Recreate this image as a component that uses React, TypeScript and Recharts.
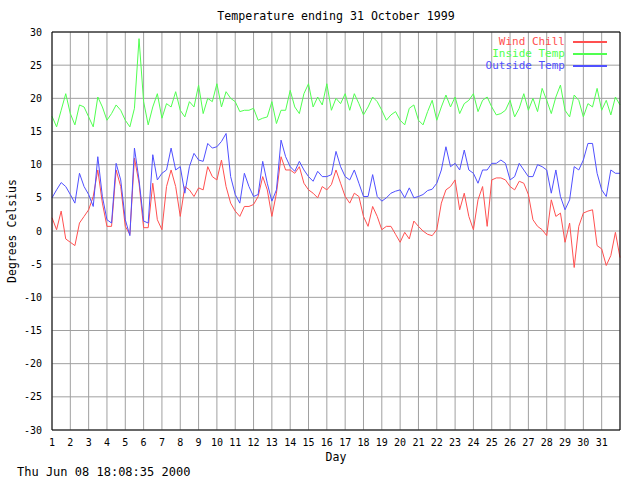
import { LineChart, Line, XAxis, YAxis, CartesianGrid, Legend } from "recharts";

// readings every 6 hours, from day 1 00:00 to day 32 00:00
const START_DAY = 1;
const STEP = 0.25;

const windChill = [
  2, 0.2, 3, -1.2,
  -1.7, -2.2, 1.2, 2.2,
  3.2, 5.2, 9.2, 4.2,
  0.7, 0.7, 9.2, 6.7,
  0.7, -0.5, 11, 7.2,
  0.5, 0.5, 7.2, 1.7,
  0.2, 6.7, 9.2, 6.7,
  2.2, 6.7, 6.2, 5.2,
  6.5, 6.2, 9.7, 8.2,
  7.7, 10.7, 6.7, 4.2,
  3, 2.2, 3.7, 3.7,
  4, 5.2, 8.2, 6.2,
  2.2, 5.7, 11.2, 9.2,
  9.2, 8.7, 9.7, 7.2,
  6.2, 5.7, 5, 6.7,
  6.2, 7, 9.2, 7.2,
  5.2, 4.2, 5.7, 5.2,
  2.2, 0.7, 3.7, 2.2,
  0.2, 0.7, 0.7, -0.5,
  -1.7, -0.2, -1.2, 1.5,
  0.7, 0, -0.5, -0.7,
  0.2, 4.2, 6.2, 6.7,
  7.7, 3.2, 5.7, 2.2,
  0.2, 4.7, 6.7, 0.7,
  7.7, 8, 8, 7.7,
  6.7, 6.2, 7.5, 7.2,
  5.5, 1.7, 0.7, 0.2,
  -0.7, 4.7, 2.2, 2.7,
  -1.7, 1.2, -5.5, 0.7,
  2.7, 3, 3.2, -2.2,
  -2.7, -5.2, -3.7, -0.2,
  -4,
];

const insideTemp = [
  17.3, 15.7, 18.2, 20.7,
  17.7, 16, 19, 18.7,
  17.2, 15.7, 20.2, 18.7,
  16.7, 17.7, 19, 18.2,
  16.7, 15.7, 18.5, 29,
  19.5, 16, 18.7, 20.7,
  17, 19.2, 18.7, 21,
  18.2, 17.2, 19.5, 18.7,
  22, 17.7, 20, 19.5,
  22.2, 18.7, 21, 20,
  19.5, 18, 18.2, 18.2,
  18.5, 16.7, 17, 17.2,
  19.5, 16.2, 18.2, 18.2,
  21.2, 18.7, 17.7, 20.7,
  22.2, 18.7, 20.2, 19,
  22.2, 18.2, 20, 19.2,
  20.7, 18.2, 20.7, 19.2,
  17.5, 18.7, 20.2, 19.5,
  18.2, 16.7, 17.5, 18,
  16.7, 16, 18.5, 19,
  16.7, 16, 18, 19.7,
  16.7, 18.7, 20.5, 18.7,
  20.2, 17.7, 19.2, 19.7,
  20.7, 18, 19.7, 20.2,
  18.7, 17.5, 17.7, 18.2,
  19.7, 17.2, 18.5, 20.7,
  18.2, 20, 18, 21.5,
  19.7, 17.7, 20.2, 22,
  18.2, 17.2, 20.5, 19.7,
  17.2, 19.2, 18.7, 21.5,
  18.2, 19.7, 17.5, 20.2,
  19,
];

const outsideTemp = [
  5, 6.2, 7.3, 6.7,
  5.5, 4.2, 8.7, 6.7,
  5.5, 3.7, 11.2, 5.2,
  1.7, 1.2, 10.2, 7.7,
  1.7, -0.7, 12.5, 7.7,
  1.5, 1.2, 11.5, 7.7,
  8.7, 9.2, 12.5, 9.2,
  9.7, 5.7, 9.7, 11.7,
  10.7, 10.5, 13.2, 12.5,
  12.7, 13.5, 14.7, 8.2,
  5.5, 4.2, 8.7, 6.7,
  5.2, 5.5, 10.5, 7.2,
  4.5, 6.2, 13.7, 11.2,
  9.7, 9, 10.5, 9.2,
  8.2, 7.5, 9, 8.2,
  8.2, 8.5, 12, 9.7,
  8.2, 7.7, 9.2, 7.2,
  5.2, 5.2, 8.5, 5.2,
  4.5, 5, 5.7, 6,
  6.2, 5, 6.5, 5,
  5.2, 5.5, 6.1, 6.3,
  7.2, 9.2, 12.7, 9.7,
  10.2, 9.2, 12.2, 9.2,
  8.7, 7.2, 9.2, 9.2,
  10.2, 10.2, 10.7, 10.2,
  7.7, 8.2, 10.2, 9.2,
  8.2, 8.2, 10, 9.7,
  9.2, 5.7, 9.2, 5.2,
  3.2, 4.7, 9.7, 9.2,
  10.7, 13.2, 13.2, 8.7,
  6.2, 5.2, 9.2, 8.7,
  8.7,
];

const dayTicks = [
  1, 2, 3, 4, 5, 6, 7, 8, 9, 10, 11, 12, 13, 14, 15, 16,
  17, 18, 19, 20, 21, 22, 23, 24, 25, 26, 27, 28, 29, 30, 31,
];
const tempTicks = [-30, -25, -20, -15, -10, -5, 0, 5, 10, 15, 20, 25, 30];

const seriesNames = ["Wind Chill", "Inside Temp", "Outside Temp"];
const seriesKeys = ["windChill", "insideTemp", "outsideTemp"];
const seriesColors = ["#ff5050", "#50ff50", "#5050ff"];

const data = windChill.map((v, i) => ({
  day: START_DAY + i * STEP,
  windChill: v,
  insideTemp: insideTemp[i],
  outsideTemp: outsideTemp[i],
}));

const mono = "'DejaVu Sans Mono', monospace";
const tickFont = { fontFamily: mono, fontSize: 10, fill: "#000" };
const black = { stroke: "#000" };

function ChartLegend() {
  return (
    <div style={{ fontFamily: mono, fontSize: 11, lineHeight: "12px" }}>
      {seriesNames.map((name, i) => (
        <div
          key={name}
          style={{
            display: "flex",
            justifyContent: "flex-end",
            alignItems: "center",
            height: 12,
          }}
        >
          <span style={{ color: seriesColors[i], whiteSpace: "pre" }}>{name}</span>
          <div
            style={{
              width: 34,
              height: 2,
              marginLeft: 8,
              backgroundColor: seriesColors[i],
            }}
          />
        </div>
      ))}
    </div>
  );
}

export default function App() {
  return (
    <div
      style={{
        position: "absolute",
        left: 0,
        top: 0,
        width: 640,
        height: 480,
        background: "#fff",
        fontFamily: mono,
      }}
    >
      <div
        style={{
          position: "absolute",
          left: 52,
          width: 568,
          top: 9,
          textAlign: "center",
          fontSize: 11.6,
          lineHeight: "14px",
        }}
      >
        Temperature ending 31 October 1999
      </div>

      <LineChart
        width={640}
        height={480}
        data={data}
        margin={{ top: 32, right: 20, bottom: 0, left: 0 }}
      >
        <CartesianGrid stroke="#a0a0a0" strokeWidth={1} />

        <XAxis
          dataKey="day"
          type="number"
          domain={[1, 32]}
          ticks={dayTicks}
          interval={0}
          height={50}
          tick={tickFont}
          tickLine={false}
          tickSize={7}
          axisLine={black}
        />
        <XAxis
          xAxisId="bottomTicks"
          dataKey="day"
          type="number"
          domain={[1, 32]}
          ticks={dayTicks}
          interval={0}
          orientation="bottom"
          mirror
          tick={false}
          tickSize={5}
          tickLine={black}
          axisLine={false}
        />
        <XAxis
          xAxisId="top"
          dataKey="day"
          type="number"
          domain={[1, 32]}
          ticks={dayTicks}
          interval={0}
          orientation="top"
          mirror
          tick={false}
          tickSize={5}
          tickLine={black}
          axisLine={black}
        />

        <YAxis
          domain={[-30, 30]}
          ticks={tempTicks}
          interval={0}
          width={52}
          tick={tickFont}
          tickLine={false}
          tickSize={8}
          axisLine={black}
        />
        <YAxis
          yAxisId="leftTicks"
          domain={[-30, 30]}
          ticks={tempTicks}
          interval={0}
          mirror
          tick={false}
          tickSize={5}
          tickLine={black}
          axisLine={false}
        />
        <YAxis
          yAxisId="right"
          orientation="right"
          domain={[-30, 30]}
          ticks={tempTicks}
          interval={0}
          mirror
          tick={false}
          tickSize={5}
          tickLine={black}
          axisLine={black}
        />

        <Legend
          layout="vertical"
          align="center"
          verticalAlign="middle"
          content={<ChartLegend />}
          wrapperStyle={{ top: 36, left: 300, width: 307, height: 36 }}
        />

        {seriesKeys.map((key, i) => (
          <Line
            key={key}
            type="linear"
            dataKey={key}
            name={seriesNames[i]}
            stroke={seriesColors[i]}
            strokeWidth={1}
            dot={false}
            isAnimationActive={false}
          />
        ))}
      </LineChart>

      <div
        style={{
          position: "absolute",
          left: 12,
          top: 231,
          transform: "translate(-50%, -50%) rotate(-90deg)",
          fontSize: 11.5,
          whiteSpace: "nowrap",
        }}
      >
        Degrees Celsius
      </div>
      <div
        style={{
          position: "absolute",
          left: 52,
          width: 568,
          top: 450,
          textAlign: "center",
          fontSize: 11.5,
          lineHeight: "14px",
        }}
      >
        Day
      </div>
      <div
        style={{
          position: "absolute",
          left: 17,
          top: 465,
          fontSize: 12,
          lineHeight: "14px",
          whiteSpace: "nowrap",
        }}
      >
        Thu Jun 08 18:08:35 2000
      </div>
    </div>
  );
}
